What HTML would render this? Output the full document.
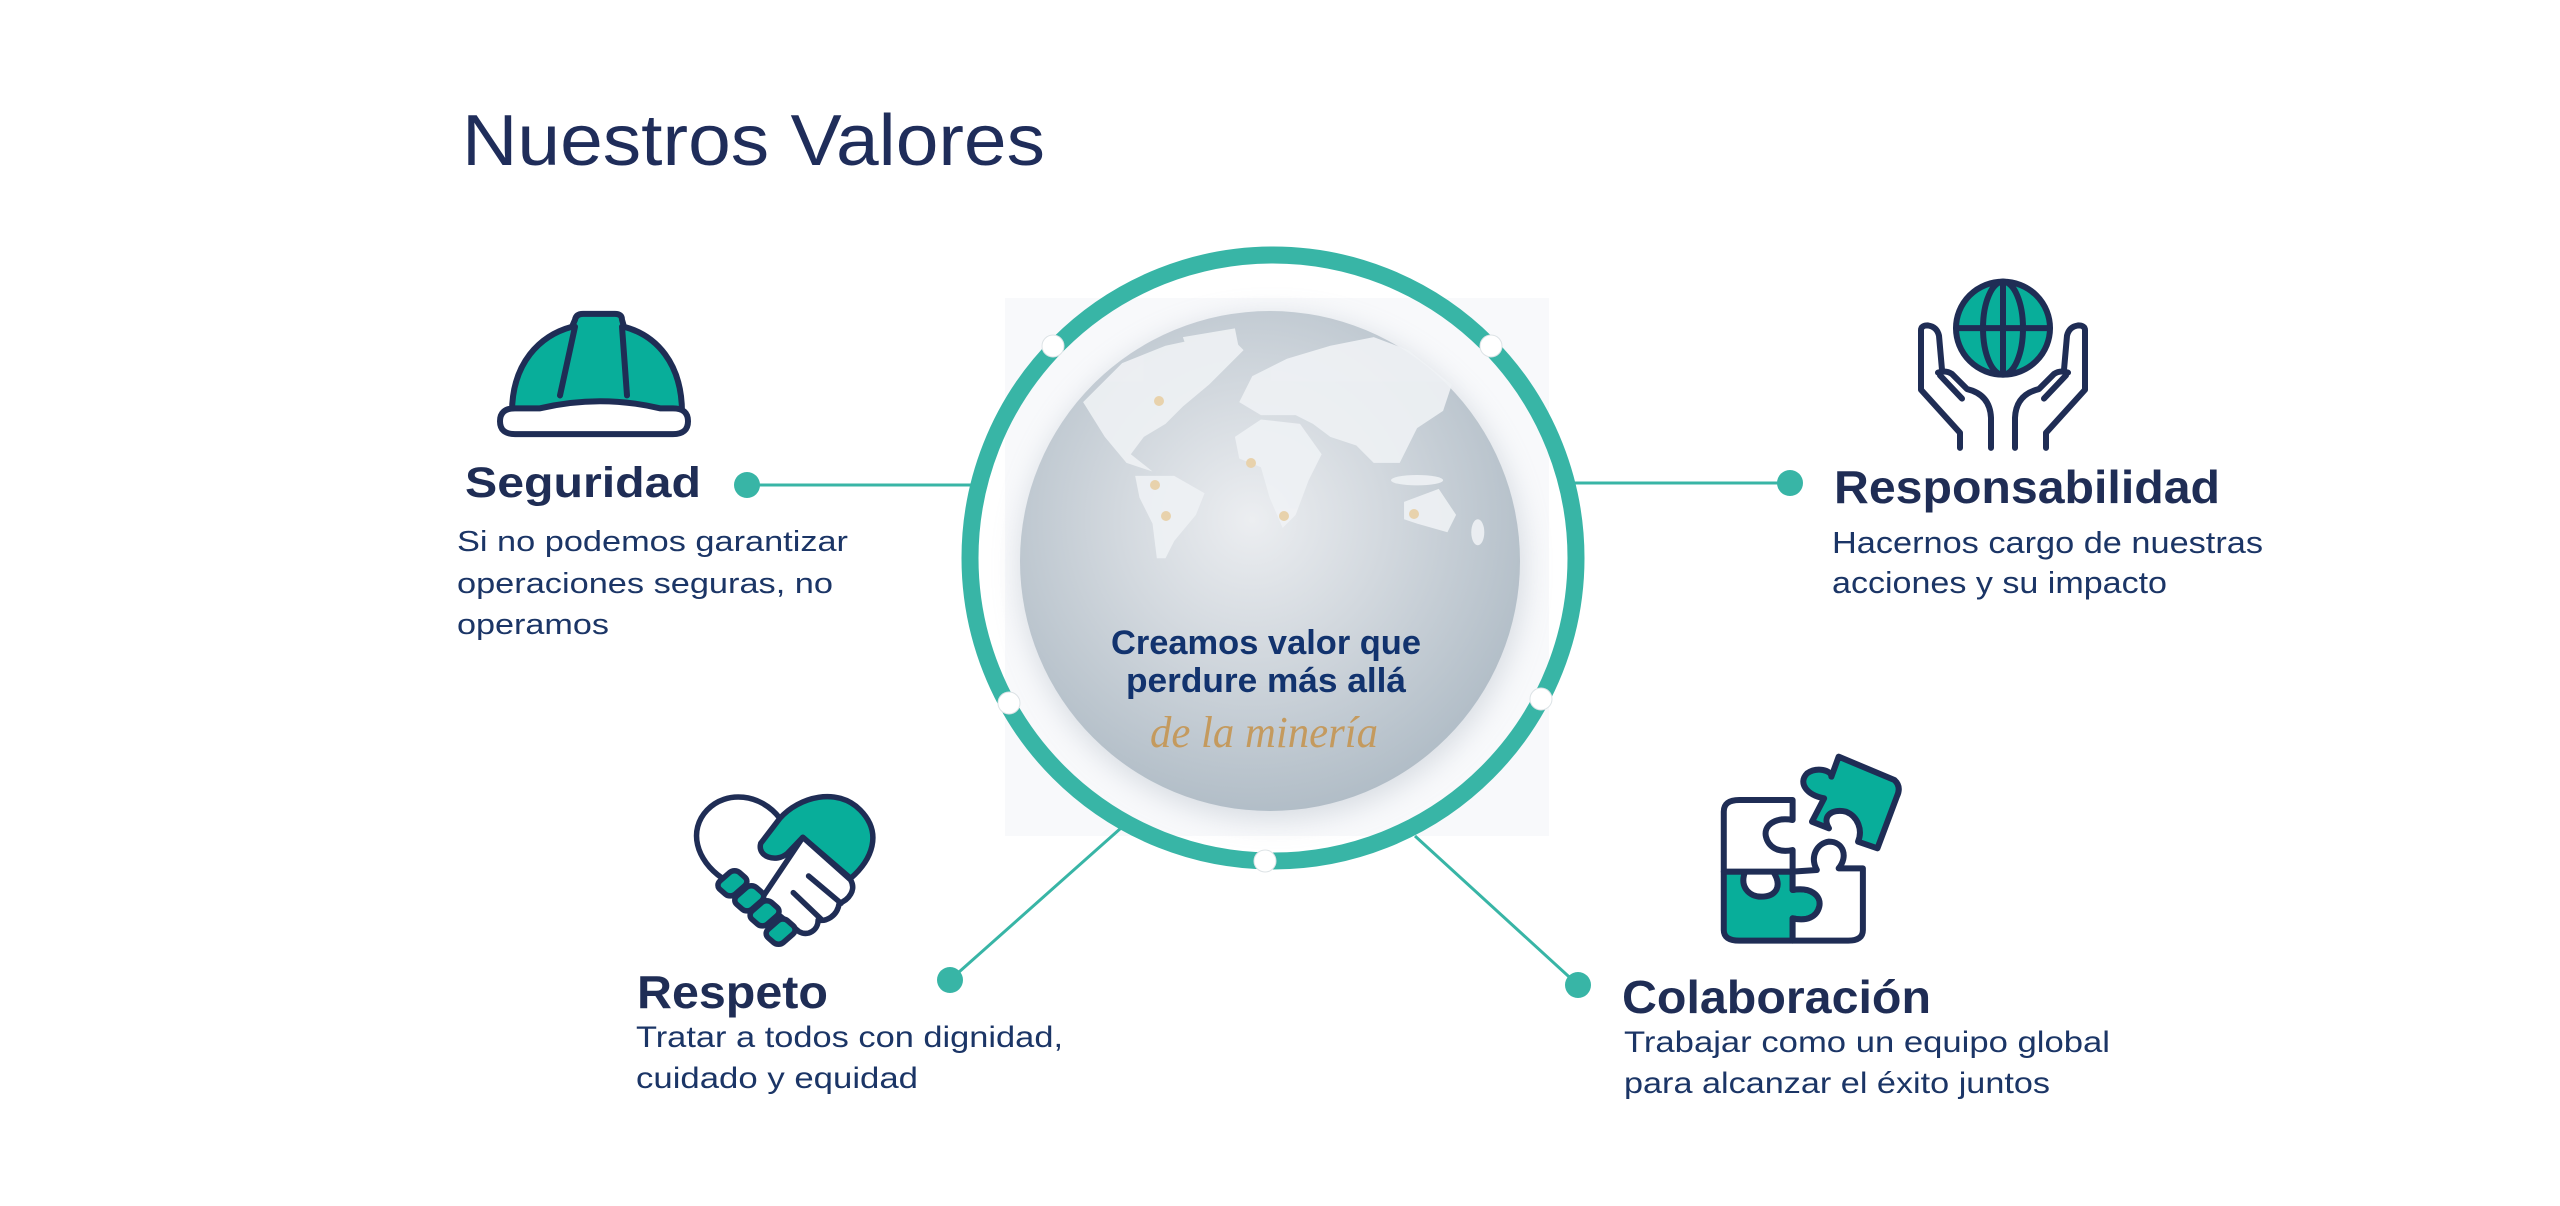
<!DOCTYPE html>
<html><head><meta charset="utf-8"><style>
html,body{margin:0;padding:0;background:#fff;width:2560px;height:1206px;overflow:hidden}
svg{display:block}
text{font-family:"Liberation Sans",sans-serif}
.ic *{vector-effect:non-scaling-stroke}
</style></head><body>
<svg width="2560" height="1206" viewBox="0 0 2560 1206" xmlns="http://www.w3.org/2000/svg">
<defs>
<radialGradient id="gl" cx="1252" cy="520" r="300" gradientUnits="userSpaceOnUse">
<stop offset="0" stop-color="#eceef1"/><stop offset="0.45" stop-color="#d2d8de"/><stop offset="1" stop-color="#b0bcc6"/>
</radialGradient>
<filter id="sh" x="-20%" y="-20%" width="140%" height="140%"><feGaussianBlur stdDeviation="14"/></filter>
</defs>

<text x="462" y="165" font-size="72" fill="#1f2d5a" textLength="583" lengthAdjust="spacingAndGlyphs">Nuestros Valores</text>

<rect x="1005" y="298" width="544" height="538" fill="#f8f9fb"/>
<g stroke="#38b5a6" stroke-width="3">
<line x1="747" y1="485" x2="982" y2="485"/>
<line x1="1570" y1="483" x2="1790" y2="483"/>
<line x1="950" y1="980" x2="1121" y2="828"/>
<line x1="1415" y1="836" x2="1578" y2="985"/>
</g>
<g fill="#38b5a6">
<circle cx="747" cy="485" r="13"/><circle cx="1790" cy="483" r="13"/>
<circle cx="950" cy="980" r="13"/><circle cx="1578" cy="985" r="13"/>
</g>

<circle cx="1273" cy="558" r="303" fill="none" stroke="#38b5a6" stroke-width="17"/>
<g fill="#fff" stroke="#dde3e6" stroke-width="1">
<circle cx="1053" cy="346" r="11"/><circle cx="1491" cy="346" r="11"/>
<circle cx="1009" cy="703" r="11"/><circle cx="1541" cy="699" r="11"/>
<circle cx="1265" cy="861" r="11"/>
</g>

<circle cx="1272" cy="568" r="252" fill="#9aa6b4" opacity="0.35" filter="url(#sh)"/>
<circle cx="1270" cy="561" r="250" fill="url(#gl)"/>
<g transform="translate(940,220) scale(0.4337)" fill="#eff2f5" opacity="0.9">
<path d="M330,420 L420,330 L520,290 L660,260 L700,300 L620,380 L560,430 L520,470 L470,500 L440,540 L490,580 L430,560 L380,500 Z"/>
<path d="M560,270 L680,250 L690,300 L600,380 Z"/>
<path d="M450,590 L540,590 L610,630 L590,680 L540,740 L520,780 L500,780 L490,700 L460,640 Z"/>
<path d="M690,420 L720,360 L800,320 L900,290 L1000,270 L1080,300 L1180,380 L1160,440 L1100,480 L1060,560 L1000,560 L960,520 L900,500 L860,470 L820,450 L740,450 Z"/>
<path d="M680,500 L740,460 L830,470 L880,540 L850,600 L820,680 L790,710 L760,640 L740,570 L690,550 Z"/>
<path d="M1070,650 L1150,620 L1190,680 L1170,720 L1100,700 L1070,690 Z"/>
<ellipse cx="1100" cy="600" rx="60" ry="12"/><ellipse cx="1240" cy="720" rx="15" ry="30"/>
</g>
<g fill="#e8d2ac">
<circle cx="1159" cy="401" r="5"/><circle cx="1251" cy="463" r="5"/>
<circle cx="1155" cy="485" r="5"/><circle cx="1166" cy="516" r="5"/>
<circle cx="1284" cy="516" r="5"/><circle cx="1414" cy="514" r="5"/>
</g>
<text x="1111" y="654" font-size="34" font-weight="bold" fill="#12336e" textLength="310" lengthAdjust="spacingAndGlyphs">Creamos valor que</text>
<text x="1126" y="692" font-size="34" font-weight="bold" fill="#12336e" textLength="280" lengthAdjust="spacingAndGlyphs">perdure más allá</text>
<text x="1150" y="747" font-size="44" font-style="italic" fill="#c49a5e" style="font-family:'Liberation Serif',serif" textLength="228" lengthAdjust="spacingAndGlyphs">de la minería</text>

<!-- Seguridad -->
<g class="ic" transform="translate(0,10.6) scale(1,0.859)" stroke="#1f2d55" stroke-width="6" stroke-linejoin="round" stroke-linecap="round">
<path d="M512,468 C512,410 540,378 572,368 L575,360 Q576,353 583,353 L615,353 Q622,353 622,360 L624,368 C656,378 682,410 682,468 Z" fill="#08ae9a"/>
<path d="M575,368 L560,448 M622,368 L627,448" fill="none"/>
<path d="M515,463 L540,463 C580,452 620,452 660,463 L673,463 Q688,463 688,478 Q688,493 673,493 L515,493 Q500,493 500,478 Q500,463 515,463 Z" fill="#fff"/>
</g>
<text x="465" y="497" font-size="43" font-weight="bold" fill="#1f2d55" textLength="236" lengthAdjust="spacingAndGlyphs">Seguridad</text>
<g font-size="29" fill="#1b3566">
<text x="457" y="551" textLength="391" lengthAdjust="spacingAndGlyphs">Si no podemos garantizar</text>
<text x="457" y="593" textLength="376" lengthAdjust="spacingAndGlyphs">operaciones seguras, no</text>
<text x="457" y="634" textLength="152" lengthAdjust="spacingAndGlyphs">operamos</text>
</g>

<!-- Responsabilidad -->
<g class="ic" transform="translate(0,82.6) scale(1,0.684)" stroke="#1f2d55" stroke-width="6" stroke-linejoin="round" stroke-linecap="round" fill="none">
<ellipse cx="2003" cy="359" rx="47" ry="68" fill="#08ae9a"/>
<ellipse cx="2003" cy="359" rx="20" ry="68"/>
<path d="M2003,291 L2003,427 M1956,359 L2050,359"/>
<path d="M1960,534 L1960,512 L1921,449 L1921,362 Q1921,355 1928,355 Q1937,357 1939,370 L1942,420"/>
<path d="M1940,428 L1962,462 M1938,424 Q1946,420 1952,426 L1967,448 Q1990,456 1991,490 L1991,534"/>
<path d="M2046,534 L2046,512 L2085,449 L2085,362 Q2085,355 2078,355 Q2069,357 2067,370 L2064,420"/>
<path d="M2066,428 L2044,462 M2068,424 Q2060,420 2054,426 L2039,448 Q2016,456 2015,490 L2015,534"/>
</g>
<text x="1834" y="503" font-size="46" font-weight="bold" fill="#1f2d55" textLength="386" lengthAdjust="spacingAndGlyphs">Responsabilidad</text>
<g font-size="31" fill="#1b3566">
<text x="1832" y="553" textLength="431" lengthAdjust="spacingAndGlyphs">Hacernos cargo de nuestras</text>
<text x="1832" y="593" textLength="335" lengthAdjust="spacingAndGlyphs">acciones y su impacto</text>
</g>

<!-- Respeto -->
<g class="ic" transform="translate(600,760) scale(0.3827,0.3333)" stroke="#1f2d55" stroke-width="5.5" stroke-linejoin="round" stroke-linecap="round">
<path d="M470,175 C420,100 330,90 280,150 C230,210 250,300 320,355 L420,460 L560,300 Z" fill="#fff"/>
<path d="M470,175 C520,110 620,80 680,150 C740,220 710,300 655,355 L530,232 L490,280 C460,310 410,290 420,250 Z" fill="#08ae9a"/>
<path d="M530,232 L655,360 C670,390 650,420 625,430 C620,470 590,485 570,480 C570,510 545,530 520,515 L420,420 Z" fill="#fff"/>
<path d="M545,348 L630,430 M505,398 L580,480" fill="none"/>
<g fill="#08ae9a">
<rect x="310" y="342" width="72" height="56" rx="18" transform="rotate(-45 346 370)"/>
<rect x="354" y="387" width="72" height="56" rx="18" transform="rotate(-45 390 415)"/>
<rect x="394" y="432" width="72" height="56" rx="18" transform="rotate(-45 430 460)"/>
<rect x="436" y="487" width="72" height="56" rx="18" transform="rotate(-45 472 515)"/>
</g>
</g>
<text x="637" y="1008" font-size="46" font-weight="bold" fill="#1f2d55" textLength="191" lengthAdjust="spacingAndGlyphs">Respeto</text>
<g font-size="30" fill="#1b3566">
<text x="636" y="1047" textLength="427" lengthAdjust="spacingAndGlyphs">Tratar a todos con dignidad,</text>
<text x="636" y="1088" textLength="282" lengthAdjust="spacingAndGlyphs">cuidado y equidad</text>
</g>

<!-- Colaboración -->
<g class="ic" transform="translate(1400,740) scale(0.4847,0.3333)" stroke="#1f2d55" stroke-width="6" stroke-linejoin="round" stroke-linecap="round">
<path d="M668,395 L712,395 C700,440 720,470 745,470 C775,470 790,440 770,395 L810,395 L810,450 C850,440 870,470 865,500 C860,530 840,545 810,535 L810,602 L700,602 Q668,602 668,570 Z" fill="#08ae9a"/>
<path d="M668,395 L668,215 Q668,180 700,180 L810,180 L810,240 C770,230 750,260 755,290 C760,320 780,340 810,330 L810,395 Z" fill="#fff"/>
<path d="M810,395 L860,390 C845,350 860,310 885,305 C915,305 925,350 905,385 L955,385 L955,570 Q955,602 925,602 L810,602 L810,535 C840,545 860,530 865,500 C870,470 850,440 810,450 Z" fill="#fff"/>
<path d="M905,50 L1020,120 Q1035,140 1025,170 L985,325 L945,305 C955,270 945,230 920,215 C890,205 870,230 885,265 L850,245 L875,175 C840,165 820,130 840,100 C860,80 890,90 890,110 Z" fill="#08ae9a"/>
</g>
<text x="1622" y="1013" font-size="46" font-weight="bold" fill="#1f2d55" textLength="309" lengthAdjust="spacingAndGlyphs">Colaboración</text>
<g font-size="30" fill="#1b3566">
<text x="1624" y="1052" textLength="486" lengthAdjust="spacingAndGlyphs">Trabajar como un equipo global</text>
<text x="1624" y="1093" textLength="426" lengthAdjust="spacingAndGlyphs">para alcanzar el éxito juntos</text>
</g>
</svg>
</body></html>
